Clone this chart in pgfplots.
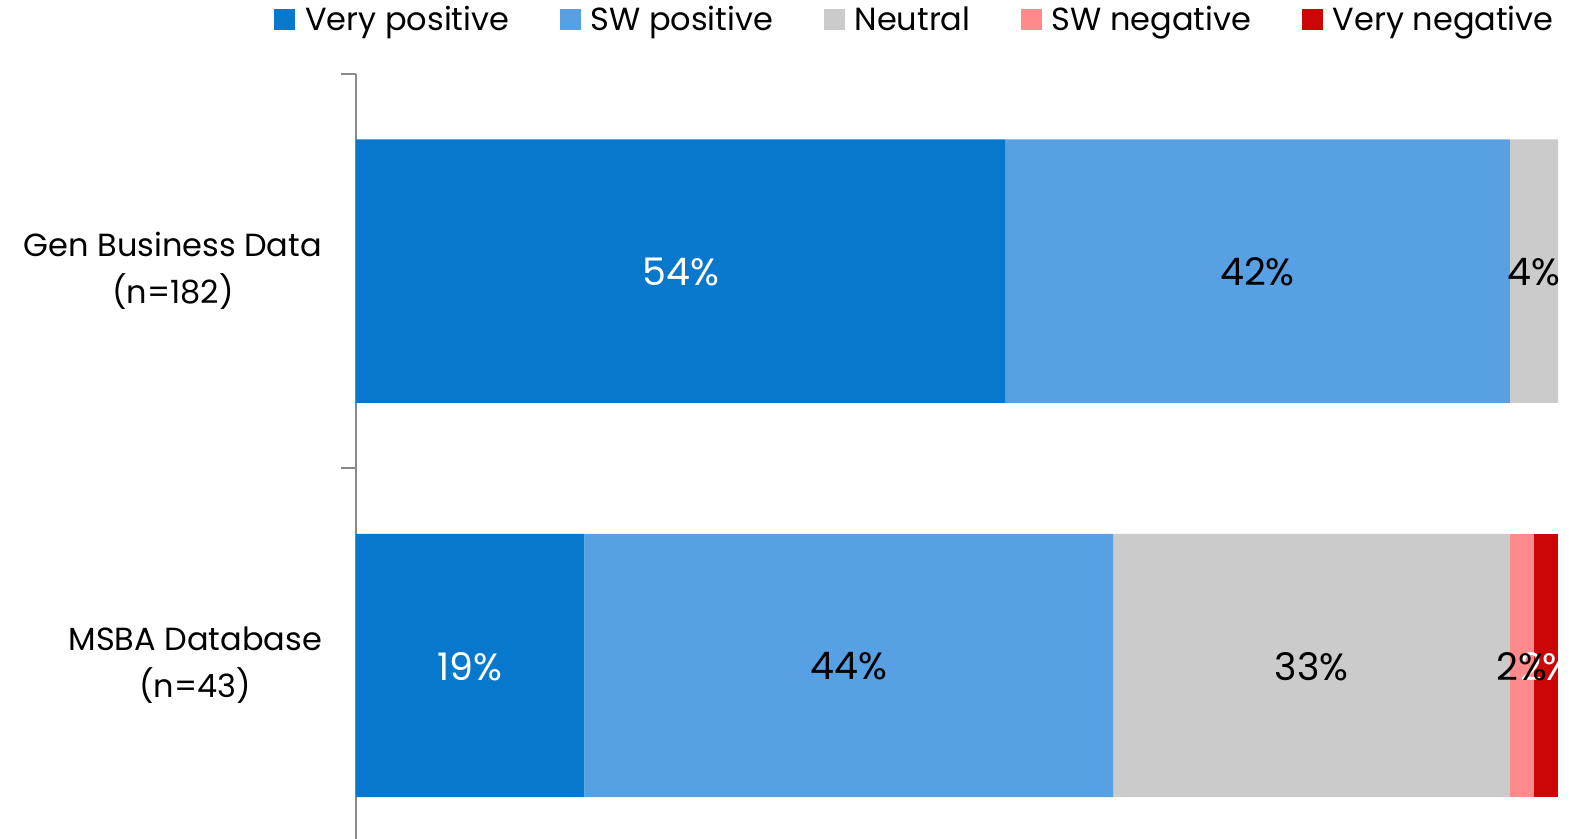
\documentclass[border=0pt]{standalone}
\usepackage{pgfplots}
\pgfplotsset{compat=1.18}
\usepackage{fontspec}
\setmainfont{Poppins}
\definecolor{vpos}{RGB}{7,120,204}
\definecolor{swpos}{RGB}{87,160,227}
\definecolor{neut}{RGB}{203,203,203}
\definecolor{swneg}{RGB}{255,138,140}
\definecolor{vneg}{RGB}{204,6,6}
\definecolor{axgray}{RGB}{137,137,137}
\begin{document}
\begin{tikzpicture}
\begin{axis}[
  name=ax,
  scale only axis,
  width=601pt, height=382.5pt,
  xbar stacked,
  bar width=0.668,
  xmin=0, xmax=100,
  ymin=-0.44, ymax=1.5,
  axis x line=none,
  axis y line*=left,
  axis line style={axgray, line width=1pt},
  ytick={0,1},
  yticklabels={{MSBA Database\\(n=43)},{Gen Business Data\\(n=182)}},
  major tick length=0pt,
  yticklabel style={align=center, font=\fontsize{16}{23.5}\selectfont, xshift=-13.5pt},
  extra y ticks={0.5,1.5},
  extra y tick labels={},
  extra y tick style={major tick length=7.5pt, tick align=outside, tick style={axgray, line width=1pt}},
  legend columns=5,
  legend style={draw=none, fill=none, font=\fontsize{16}{19}\selectfont,
    at={(rel axis cs:1,1)}, anchor=east, yshift=27pt, xshift=0pt, inner sep=0pt,
    /tikz/every odd column/.append style={column sep=3pt},
    /tikz/every even column/.append style={column sep=23.2pt}},
  legend image code/.code={\fill[#1,draw=none] (0pt,-5.25pt) rectangle (10.5pt,5.25pt);},
  point meta=explicit symbolic,
  nodes near coords={\pgfplotspointmeta\%},
  every node near coord/.append style={anchor=center, font=\fontsize{19}{22}\selectfont, yshift=-0.5pt},
]
\addplot[fill=vpos, draw=none, every node near coord/.append style={text=white}] table[x=v, y=c, meta=m] {
v c m
19 0 19
54 1 54
};
\addlegendentry{Very positive}
\addplot[fill=swpos, draw=none, every node near coord/.append style={text=black}] table[x=v, y=c, meta=m] {
v c m
44 0 44
42 1 42
};
\addlegendentry{SW positive}
\addplot[fill=neut, draw=none, every node near coord/.append style={text=black}] table[x=v, y=c, meta=m] {
v c m
33 0 33
4 1 4
};
\addlegendentry{Neutral}
\addplot[fill=swneg, draw=none, every node near coord/.append style={text=black}] table[x=v, y=c, meta=m] {
v c m
2 0 2
0 1 {}
};
\addlegendentry{SW negative}
\addplot[fill=vneg, draw=none, every node near coord/.append style={text=white}] table[x=v, y=c, meta=m] {
v c m
2 0 2
0 1 {}
};
\addlegendentry{Very negative}
\end{axis}
\pgfresetboundingbox
\path ([xshift=-178pt]ax.south west) rectangle ([xshift=12.5pt,yshift=37pt]ax.north east);
\end{tikzpicture}
\end{document}
